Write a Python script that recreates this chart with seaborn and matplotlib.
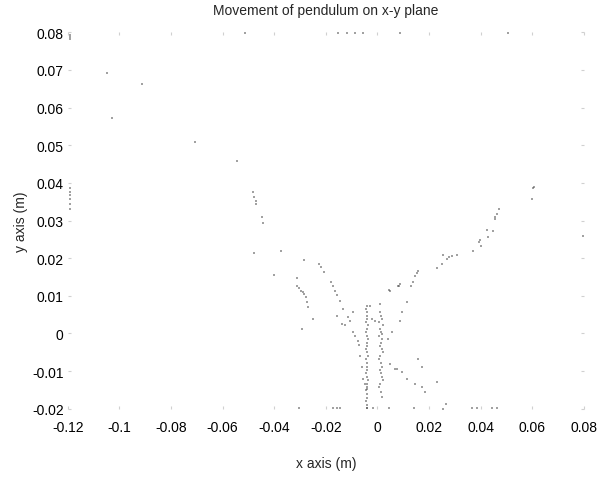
import numpy as np
import pandas as pd
import matplotlib
matplotlib.use("Agg")
import matplotlib.pyplot as plt
import seaborn as sns

# ---- data (metres) ----
upper_left_x = [-0.1049, -0.0913, -0.1029, -0.0708, -0.0545]
upper_left_y = [0.0691, 0.0662, 0.0572, 0.0508, 0.0458]

left_edge_x = [-0.1192, -0.1192, -0.1192, -0.1190, -0.1190, -0.1190, -0.1190, -0.1190, -0.1190]
left_edge_y = [0.0792, 0.0786, 0.0781, 0.0386, 0.0376, 0.0368, 0.0357, 0.0344, 0.0330]

left_arm_x = [-0.0483, -0.0479, -0.0471, -0.0471, -0.0448, -0.0444, -0.0479, -0.0374,
              -0.0285, -0.0227, -0.0219, -0.0208, -0.0402, -0.0312, -0.0181, -0.0173,
              -0.0165, -0.0157, -0.0312, -0.0305, -0.0297, -0.0289, -0.0285, -0.0278,
              -0.0274, -0.0270]
left_arm_y = [0.0376, 0.0362, 0.0352, 0.0344, 0.0309, 0.0293, 0.0214, 0.0219,
              0.0195, 0.0184, 0.0177, 0.0163, 0.0155, 0.0147, 0.0137, 0.0126,
              0.0113, 0.0102, 0.0126, 0.0121, 0.0113, 0.0110, 0.0105, 0.0097,
              0.0084, 0.0070]

centre_x = [-0.0146, -0.0134, -0.0095, -0.0115, -0.0250, -0.0293, -0.0157, -0.0138,
            -0.0126, -0.0107, -0.0095, -0.0088, -0.0076, -0.0072, -0.0068, -0.0060,
            -0.0057, -0.0049, -0.0041]
centre_y = [0.0086, 0.0065, 0.0057, 0.0044, 0.0039, 0.0012, 0.0047, 0.0025,
            0.0022, 0.0033, 0.0004, -0.0006, -0.0020, -0.0030, -0.0060, -0.0089,
            -0.0121, -0.0134, -0.0147]

column_a_x = [-0.0041, -0.0043, -0.0039, -0.0042, -0.0040, -0.0044, -0.0038, -0.0041,
              -0.0043, -0.0040, -0.0036, -0.0042, -0.0039, -0.0044, -0.0041, -0.0037,
              -0.0043, -0.0040, -0.0042, -0.0039, -0.0045, -0.0041, -0.0038, -0.0042,
              -0.0040, -0.0043, -0.0039, -0.0041, -0.0044, -0.0040, -0.0042]
column_a_y = [0.0073, 0.0065, 0.0057, 0.0047, 0.0039, 0.0030, 0.0022, 0.0012,
              0.0004, -0.0006, -0.0014, -0.0024, -0.0033, -0.0041, -0.0050, -0.0060,
              -0.0068, -0.0078, -0.0089, -0.0097, -0.0106, -0.0115, -0.0124, -0.0134,
              -0.0142, -0.0150, -0.0160, -0.0170, -0.0180, -0.0190, -0.0198]

column_b_x = [0.0009, 0.0013, 0.0017, 0.0005, 0.0021, 0.0011, 0.0015, 0.0007,
              0.0019, 0.0013, 0.0009, 0.0017, 0.0021, 0.0011, 0.0005, 0.0015,
              0.0019, 0.0009, 0.0013, 0.0017, 0.0021, 0.0011, 0.0007, 0.0015, 0.0019]
column_b_y = [0.0057, 0.0047, 0.0039, 0.0030, 0.0022, 0.0012, 0.0004, -0.0006,
              -0.0014, -0.0024, -0.0033, -0.0041, -0.0050, -0.0060, -0.0068, -0.0078,
              -0.0089, -0.0097, -0.0106, -0.0115, -0.0124, -0.0134, -0.0142, -0.0155, -0.0168]

right_centre_x = [-0.0029, 0.0009, 0.0048, 0.0079, 0.0087, 0.0114, 0.0095, 0.0087,
                  0.0056, 0.0040, 0.0017, -0.0022, -0.0010, 0.0048, 0.0067, 0.0075,
                  0.0095, 0.0114, 0.0145, 0.0157, 0.0172, 0.0172, 0.0184, 0.0230,
                  0.0253, 0.0265]
right_centre_y = [0.0073, 0.0078, 0.0113, 0.0126, 0.0131, 0.0084, 0.0057, 0.0033,
                  0.0004, -0.0014, -0.0001, 0.0039, 0.0033, -0.0081, -0.0094, -0.0094,
                  -0.0102, -0.0121, -0.0134, -0.0068, -0.0089, -0.0142, -0.0155, -0.0129,
                  -0.0200, -0.0187]

right_arm_x = [0.0044, 0.0083, 0.0129, 0.0137, 0.0145, 0.0153, 0.0157, 0.0230,
               0.0250, 0.0269, 0.0253, 0.0277, 0.0288, 0.0308, 0.0370, 0.0401,
               0.0393, 0.0397, 0.0428, 0.0424, 0.0447, 0.0455, 0.0455, 0.0463,
               0.0471, 0.0598, 0.0602, 0.0606, 0.0796]
right_arm_y = [0.0116, 0.0126, 0.0126, 0.0137, 0.0153, 0.0161, 0.0166, 0.0174,
               0.0184, 0.0198, 0.0208, 0.0203, 0.0206, 0.0208, 0.0219, 0.0232,
               0.0243, 0.0248, 0.0256, 0.0275, 0.0272, 0.0304, 0.0309, 0.0317,
               0.0330, 0.0357, 0.0386, 0.0389, 0.0259]

top_row_x = [-0.0514, -0.0153, -0.0119, -0.0088, -0.0057, 0.0087, 0.0505]
top_row_y = [0.0797, 0.0797, 0.0797, 0.0797, 0.0797, 0.0797, 0.0797]

bottom_row_x = [-0.0305, -0.0173, -0.0157, -0.0146, -0.0041, -0.0018, 0.0044,
                0.0141, 0.0366, 0.0385, 0.0443, 0.0463]
bottom_row_y = [-0.0197, -0.0197, -0.0197, -0.0197, -0.0197, -0.0197, -0.0197,
                -0.0197, -0.0197, -0.0197, -0.0197, -0.0197]

x_ticks = [-0.12, -0.1, -0.08, -0.06, -0.04, -0.02, 0, 0.02, 0.04, 0.06, 0.08]
x_tick_labels = ["-0.12", "-0.1", "-0.08", "-0.06", "-0.04", "-0.02", "0", "0.02", "0.04", "0.06", "0.08"]
y_ticks = [-0.02, -0.01, 0, 0.01, 0.02, 0.03, 0.04, 0.05, 0.06, 0.07, 0.08]
y_tick_labels = ["-0.02", "-0.01", "0", "0.01", "0.02", "0.03", "0.04", "0.05", "0.06", "0.07", "0.08"]

groups = [
    (upper_left_x, upper_left_y),
    (left_edge_x, left_edge_y),
    (left_arm_x, left_arm_y),
    (centre_x, centre_y),
    (column_a_x, column_a_y),
    (column_b_x, column_b_y),
    (right_centre_x, right_centre_y),
    (right_arm_x, right_arm_y),
    (top_row_x, top_row_y),
    (bottom_row_x, bottom_row_y),
]
df = pd.DataFrame({
    "x": np.concatenate([g[0] for g in groups]),
    "y": np.concatenate([g[1] for g in groups]),
})

sns.set_theme(style="white")
plt.rcParams["font.family"] = ["Liberation Sans", "DejaVu Sans"]

fig = plt.figure(figsize=(6.0, 4.81), dpi=100)
ax = fig.add_axes([0.113, 0.148, 0.86, 0.783])

sns.scatterplot(data=df, x="x", y="y", ax=ax, s=3, marker="s",
                color="#444444", alpha=0.5, linewidth=0, legend=False)

ax.set_xlim(-0.12, 0.08)
ax.set_ylim(-0.02, 0.08)
ax.set_xticks(x_ticks)
ax.set_xticklabels(x_tick_labels)
ax.set_yticks(y_ticks)
ax.set_yticklabels(y_tick_labels)

for s in ax.spines.values():
    s.set_visible(False)

ax.tick_params(axis="both", which="both", direction="in", length=2, width=0.8,
               color="#d0d0d0", labelsize=10, labelcolor="black",
               top=True, right=True, bottom=True, left=True)
ax.tick_params(axis="x", pad=8)
ax.tick_params(axis="y", pad=3)

ax.set_title("Movement of pendulum on x-y plane", fontsize=10, pad=13)
ax.set_xlabel("x axis (m)", fontsize=10, labelpad=16)
ax.set_ylabel("y axis (m)", fontsize=10, labelpad=3)

fig.savefig("out.png", dpi=100, facecolor="white")
